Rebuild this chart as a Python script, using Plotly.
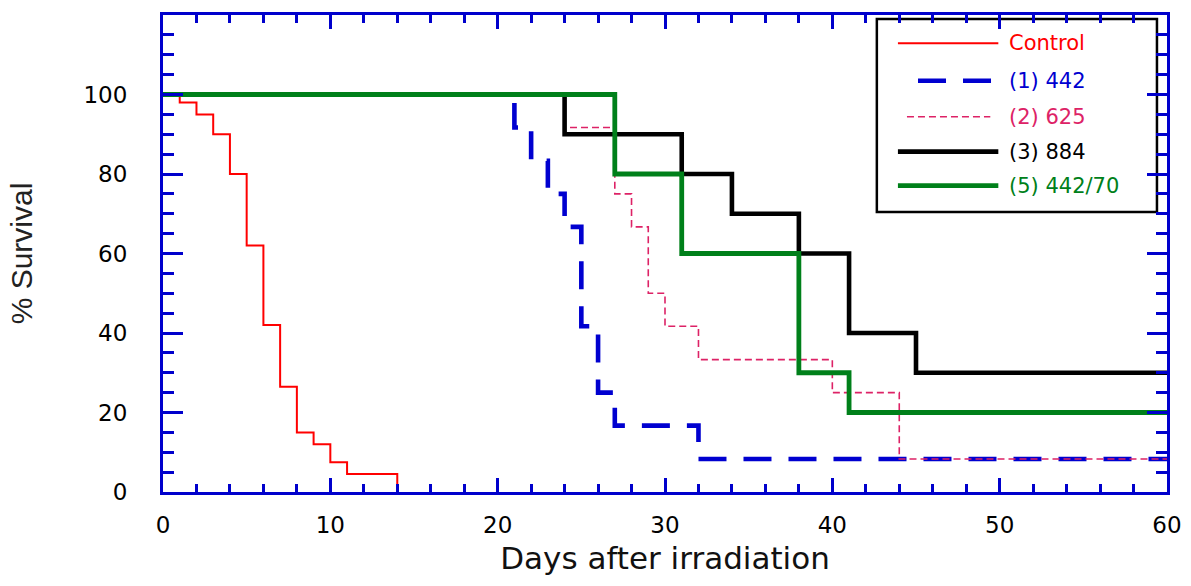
import plotly.graph_objects as go

# ---- data ----
names = ["Control", "(1) 442", "(2) 625", "(3) 884", "(5) 442/70"]

control_t = [0, 1, 2, 3, 4, 5, 6, 7, 8, 9, 10, 11, 14]
control_s = [100, 98, 95, 90, 80, 62, 42, 26.5, 15, 12, 7.5, 4.5, 0]

g1_t = [0, 21, 22, 23, 24, 25, 26, 27, 32, 60]
g1_s = [100, 91.7, 83.3, 75, 66.7, 41.7, 25, 16.7, 8.3, 8.3]

g2_t = [0, 24, 27, 28, 29, 30, 32, 40, 44, 60]
g2_s = [100, 91.7, 75, 66.7, 50, 41.7, 33.3, 25, 8.3, 8.3]

g3_t = [0, 24, 31, 34, 38, 41, 45, 60]
g3_s = [100, 90, 80, 70, 60, 40, 30, 30]

g5_t = [0, 27, 31, 38, 41, 60]
g5_s = [100, 80, 60, 30, 20, 20]

x_ticks = [0, 10, 20, 30, 40, 50, 60]
y_ticks = [0, 20, 40, 60, 80, 100]

# ---- styles ----
BLUE_AX = "#0000CC"
RED = "#FF0000"
BLUE = "#0000D0"
PINK = "#DD2266"
BLACK = "#000000"
GREEN = "#00801A"

colors = [RED, BLUE, PINK, BLACK, GREEN]
widths = [2, 4.6, 1.6, 4.6, 4.8]
dashes = ["solid", "28px,17px", "7px,4px", "solid", "solid"]
series = [(control_t, control_s), (g1_t, g1_s), (g2_t, g2_s), (g3_t, g3_s), (g5_t, g5_s)]

fig = go.Figure()
for (t, s), name, c, w, d in zip(series, names, colors, widths, dashes):
    fig.add_trace(go.Scatter(
        x=t, y=s, mode="lines", name=name,
        line=dict(shape="hv", color=c, width=w, dash=d),
        showlegend=False, hoverinfo="x+y+name",
    ))

# ---- hand-drawn legend box (paper coords) ----
fig.add_shape(type="rect", xref="paper", yref="paper",
              x0=0.711, x1=0.990, y0=0.587, y1=0.9916,
              line=dict(color="black", width=2.5), fillcolor="white", layer="below")
row_y = [0.9407, 0.8623, 0.7868, 0.7135, 0.6422]
sample_x = [(0.732, 0.832), (0.752, 0.827), (0.741, 0.824), (0.732, 0.832), (0.732, 0.832)]
for name, c, w, d, yy, (xa, xb) in zip(names, colors, widths, dashes, row_y, sample_x):
    fig.add_shape(type="line", xref="paper", yref="paper",
                  x0=xa, x1=xb, y0=yy, y1=yy,
                  line=dict(color=c, width=w, dash=d))
    fig.add_annotation(xref="paper", yref="paper", x=0.8406, y=yy,
                       text=name, showarrow=False, xanchor="left", yanchor="middle",
                       font=dict(family="DejaVu Sans", size=21, color=c))

tickfont = dict(family="DejaVu Sans", size=23, color="black")

fig.update_xaxes(
    range=[0, 60], tickvals=x_ticks, ticktext=[str(v) for v in x_ticks],
    showline=True, linecolor=BLUE_AX, linewidth=3, mirror="ticks",
    ticks="inside", tickcolor=BLUE_AX, tickwidth=2.5, ticklen=14,
    minor=dict(dtick=2, ticks="inside", ticklen=8, tickcolor=BLUE_AX, tickwidth=2.5),
    showgrid=False, zeroline=False, tickfont=tickfont, ticklabelstandoff=10,
    title=dict(text="Days after irradiation", standoff=11,
               font=dict(family="DejaVu Sans", size=31, color="#111111")),
)
fig.update_yaxes(
    range=[0, 120], tickvals=y_ticks, ticktext=[str(v) for v in y_ticks],
    showline=True, linecolor=BLUE_AX, linewidth=3, mirror="ticks",
    ticks="inside", tickcolor=BLUE_AX, tickwidth=2.5, ticklen=20,
    minor=dict(dtick=5, ticks="inside", ticklen=11, tickcolor=BLUE_AX, tickwidth=2.5),
    showgrid=False, zeroline=False, tickfont=tickfont, ticklabelstandoff=28,
    title=dict(text="% Survival", standoff=42,
               font=dict(family="Liberation Sans, sans-serif", size=30, color="#222222")),
)

fig.update_layout(
    width=1191, height=586,
    margin=dict(l=163, r=24, t=15, b=94, autoexpand=False),
    plot_bgcolor="white", paper_bgcolor="white",
    showlegend=False,
)

fig.write_html("out.html")
